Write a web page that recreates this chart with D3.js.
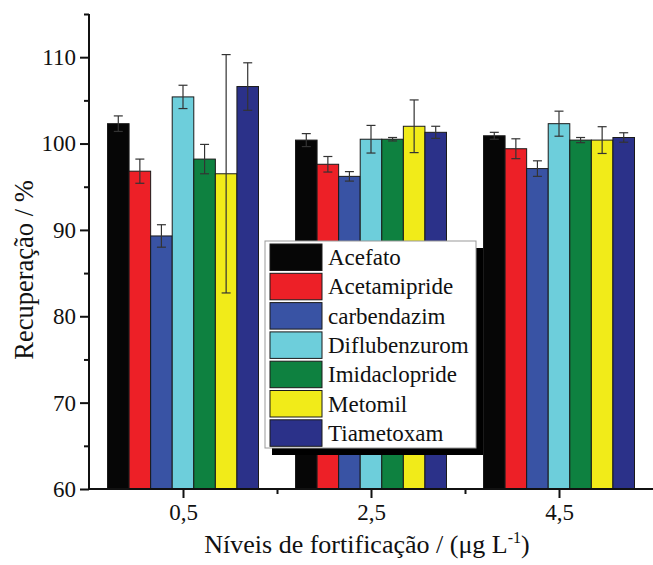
<!DOCTYPE html>
<html>
<head>
<meta charset="utf-8">
<script src="https://cdn.jsdelivr.net/npm/d3@7"></script>
<style>
  html, body { margin: 0; padding: 0; background: #fff; }
  svg { display: block; }
  svg text { font-family: "Liberation Serif", "Times New Roman", serif !important; fill: #111; }
</style>
</head>
<body>
<svg id="chart" width="653" height="565"></svg>
<script>
// ---- data ----
const levels = ["0,5", "2,5", "4,5"];
const levelPos = [0.5, 2.5, 4.5];
const compounds = ["Acefato", "Acetamipride", "carbendazim", "Diflubenzurom", "Imidaclopride", "Metomil", "Tiametoxam"];
const colors = ["#060606", "#ed2027", "#3953a4", "#6dcedb", "#0e8140", "#f1eb19", "#2b3189"];
// recovery (%) per compound, one value per fortification level
const acefato       = [102.3, 100.4, 100.9];
const acetamipride  = [96.8, 97.6, 99.4];
const carbendazim   = [89.3, 96.2, 97.1];
const diflubenzurom = [105.4, 100.5, 102.3];
const imidaclopride = [98.2, 100.5, 100.4];
const metomil       = [96.5, 102.0, 100.4];
const tiametoxam    = [106.6, 101.3, 100.7];
// standard deviations
const acefatoSD       = [0.9, 0.75, 0.4];
const acetamiprideSD  = [1.4, 0.9, 1.15];
const carbendazimSD   = [1.3, 0.55, 0.9];
const diflubenzuromSD = [1.35, 1.6, 1.45];
const imidaclopridSD  = [1.7, 0.2, 0.3];
const metomilSD       = [13.8, 3.05, 1.55];
const tiametoxamSD    = [2.75, 0.7, 0.55];
const yMajorTicks = [60, 70, 80, 90, 100, 110];
const yMinorTicks = [65, 75, 85, 95, 105, 115];
const xMinorTicks = [1.5, 3.5];

const values = [acefato, acetamipride, carbendazim, diflubenzurom, imidaclopride, metomil, tiametoxam];
const sds = [acefatoSD, acetamiprideSD, carbendazimSD, diflubenzuromSD, imidaclopridSD, metomilSD, tiametoxamSD];

const rows = [];
compounds.forEach((c, ci) => {
  levels.forEach((l, li) => {
    rows.push({ compound: c, ci, li, level: levelPos[li], value: values[ci][li], sd: sds[ci][li] });
  });
});

const FONT = "'Liberation Serif', 'Times New Roman', serif";

// ---- scales ----
const svg = d3.select("#chart");
const x = d3.scaleLinear().domain([-0.5, 5.5]).range([89, 653]);
const y = d3.scaleLinear().domain([60, 115]).range([489, 14]);
const groupWidth = 151;
const inner = d3.scaleBand().domain(compounds).range([-groupWidth / 2, groupWidth / 2]).padding(0);

// ---- bars ----
svg.append("g").selectAll("rect").data(rows).join("rect")
  .attr("x", d => x(d.level) + inner(d.compound))
  .attr("y", d => y(d.value))
  .attr("width", inner.bandwidth())
  .attr("height", d => y(60) - y(d.value))
  .attr("fill", d => colors[d.ci])
  .attr("stroke", "#1a1a1a")
  .attr("stroke-width", 1);

// ---- error bars ----
const eg = svg.append("g").attr("stroke", "#333").attr("stroke-width", 1.2).attr("fill", "none");
rows.forEach(d => {
  const cx = x(d.level) + inner(d.compound) + inner.bandwidth() / 2;
  const y1 = y(d.value + d.sd), y2 = y(d.value - d.sd);
  eg.append("line").attr("x1", cx).attr("x2", cx).attr("y1", y1).attr("y2", y2);
  eg.append("line").attr("x1", cx - 4.5).attr("x2", cx + 4.5).attr("y1", y1).attr("y2", y1);
  eg.append("line").attr("x1", cx - 4.5).attr("x2", cx + 4.5).attr("y1", y2).attr("y2", y2);
});

// ---- axes ----
const yAxis = svg.append("g").attr("transform", `translate(${x(-0.5)},0)`)
  .call(d3.axisLeft(y).tickValues(yMajorTicks).tickSize(9).tickPadding(4).tickFormat(d3.format("d")));
yAxis.select(".domain").attr("d", `M0,${y(115)}V${y(60)}`);
svg.append("g").attr("transform", `translate(${x(-0.5)},0)`)
  .call(d3.axisLeft(y).tickValues(yMinorTicks).tickSize(5).tickFormat(""))
  .select(".domain").remove();

const xAxis = svg.append("g").attr("transform", `translate(0,${y(60)})`)
  .call(d3.axisBottom(x).tickValues(levelPos).tickSize(9).tickPadding(6).tickFormat((d, i) => levels[i]));
xAxis.select(".domain").attr("d", `M${x(-0.5)},0H${x(5.5)}`);
svg.append("g").attr("transform", `translate(0,${y(60)})`)
  .call(d3.axisBottom(x).tickValues(xMinorTicks).tickSize(5).tickFormat(""))
  .select(".domain").remove();

svg.selectAll("g").attr("font-family", FONT);
svg.selectAll(".domain, .tick line").attr("stroke", "#111").attr("stroke-width", 2);
svg.selectAll(".tick text").style("font-family", FONT)
  .style("font-size", "23px").attr("fill", "#111");

// ---- axis titles ----
svg.append("text")
  .attr("transform", "translate(33,270) rotate(-90)")
  .attr("text-anchor", "middle")
  .style("font-family", FONT)
  .style("font-size", "26.5px")
  .text("Recuperação / %");

const xt = svg.append("text")
  .attr("x", 367).attr("y", 553)
  .attr("text-anchor", "middle")
  .style("font-family", FONT)
  .style("font-size", "26px");
xt.append("tspan").text("Níveis de fortificação / (μg L");
xt.append("tspan").attr("dy", -10).style("font-size", "16px").text("-1");
xt.append("tspan").attr("dy", 10).text(")");

// ---- legend ----
const lg = svg.append("g");
const lx = 265, ly = 241, lw = 211, lh = 207;
lg.append("rect").attr("x", lx + 7).attr("y", ly + 7).attr("width", lw).attr("height", lh).attr("fill", "#000");
lg.append("rect").attr("x", lx).attr("y", ly).attr("width", lw).attr("height", lh)
  .attr("fill", "#fff").attr("stroke", "#999").attr("stroke-width", 1);
const rowH = 29.3;
compounds.forEach((c, i) => {
  const ry = ly + 3 + i * rowH;
  lg.append("rect").attr("x", lx + 5).attr("y", ry).attr("width", 52).attr("height", 26.5)
    .attr("fill", colors[i]).attr("stroke", "#1a1a1a").attr("stroke-width", 1);
  lg.append("text").attr("x", lx + 63).attr("y", ry + 21)
    .style("font-family", FONT)
    .style("font-size", "23px").text(c);
});
</script>
</body>
</html>
